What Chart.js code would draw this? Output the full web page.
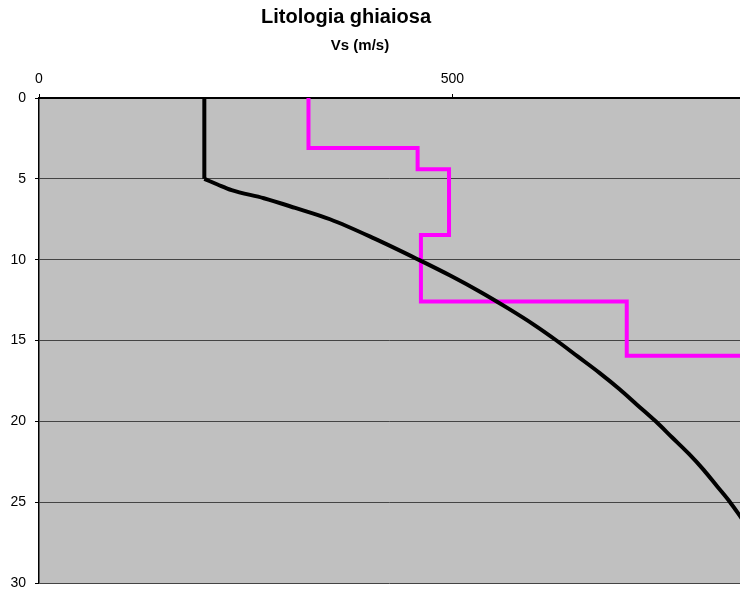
<!DOCTYPE html>
<html>
<head>
<meta charset="utf-8">
<title>Litologia ghiaiosa</title>
<script src="https://cdn.jsdelivr.net/npm/chart.js@4/dist/chart.umd.min.js"></script>
<style>
  html, body { margin: 0; padding: 0; background: #fff; overflow: hidden; }
  #wrap { width: 740px; height: 589px; position: relative; }
</style>
</head>
<body>
<div id="wrap"><canvas id="grafico"></canvas></div>
<script>
/* ---------- Dati ---------- */
const titolo = 'Litologia ghiaiosa';
const titoloAsse = 'Vs (m/s)';

// curva nera: profondità (m) e Vs (m/s)
const profCurva = [0, 5, 5.35, 5.7, 6.2, 6.8, 7.5, 8.7, 10, 11, 12, 13, 14, 15, 16, 17, 18, 19, 20, 21, 22, 23, 24, 25, 26, 28, 30];
const vsCurva   = [200, 200, 216, 233, 272, 310, 352, 406, 459, 498, 534, 567, 598, 626, 652, 678, 702, 724, 746, 766, 786, 804, 820, 836, 850, 878, 901];

// profilo a gradini magenta
const profGradini = [0, 3.1, 3.1, 4.4, 4.4, 8.48, 8.48, 12.58, 12.58, 15.95, 15.95];
const vsGradini   = [326, 326, 458, 458, 496, 496, 462, 462, 711, 711, 900];

const tickX = [0, 500];
const xMax = 848;
const yMax = 30;

/* ---------- Plugin ---------- */
const sfondoPlot = {
  id: 'sfondoPlot',
  beforeDraw(chart) {
    const { ctx, chartArea: a } = chart;
    ctx.save();
    ctx.fillStyle = '#c0c0c0';
    ctx.fillRect(a.left, a.top, a.right - a.left, a.bottom - a.top);
    ctx.restore();
  }
};
const titoli = {
  id: 'titoli',
  afterDraw(chart) {
    const ctx = chart.ctx;
    ctx.save();
    ctx.fillStyle = '#000';
    ctx.textAlign = 'center';
    ctx.textBaseline = 'alphabetic';
    ctx.font = 'bold 20px "Liberation Sans", Arial, sans-serif';
    ctx.fillText(titolo, 346, 23);
    ctx.font = 'bold 15px "Liberation Sans", Arial, sans-serif';
    ctx.fillText(titoloAsse, 360, 50);
    ctx.restore();
  }
};

const punti = (xs, ys) => xs.map((v, i) => ({ x: v, y: ys[i] }));

/* ---------- Grafico ---------- */
// tratto verticale (0-5 m) separato dalla curva, così lo spigolo resta vivo
const ctx = document.getElementById('grafico').getContext('2d');
new Chart(ctx, {
  type: 'scatter',
  data: {
    datasets: [
      {
        label: 'Vs curva (tratto costante)',
        data: punti(vsCurva.slice(0, 2), profCurva.slice(0, 2)),
        showLine: true,
        borderColor: '#000000',
        borderWidth: 4,
        pointRadius: 0,
        tension: 0
      },
      {
        label: 'Vs curva',
        data: punti(vsCurva.slice(1), profCurva.slice(1)),
        showLine: true,
        borderColor: '#000000',
        borderWidth: 4,
        pointRadius: 0,
        cubicInterpolationMode: 'monotone',
        borderJoinStyle: 'round'
      },
      {
        label: 'Vs misurata',
        data: punti(vsGradini, profGradini),
        showLine: true,
        borderColor: '#ff00ff',
        borderWidth: 4,
        pointRadius: 0,
        tension: 0,
        borderJoinStyle: 'miter'
      }
    ]
  },
  options: {
    responsive: true,
    maintainAspectRatio: false,
    animation: false,
    layout: { padding: { top: 0, left: 0, right: 0, bottom: 6 } },
    plugins: { legend: { display: false }, tooltip: { enabled: false }, title: { display: false } },
    scales: {
      x: {
        type: 'linear',
        position: 'top',
        min: 0,
        max: xMax,
        afterBuildTicks: s => { s.ticks = tickX.map(v => ({ value: v })); },
        afterFit: s => { s.height = 98; s.paddingLeft = 0; s.paddingRight = 0; },
        grid: { drawOnChartArea: false, tickLength: 4, tickColor: '#000' },
        border: { color: '#000', width: 2 },
        ticks: {
          color: '#000',
          padding: 6,
          maxRotation: 0,
          font: { family: '"Liberation Sans", Arial, sans-serif', size: 14 }
        }
      },
      y: {
        type: 'linear',
        reverse: true,
        min: 0,
        max: yMax,
        afterFit: s => { s.width = 39; s.paddingTop = 0; s.paddingBottom = 0; },
        grid: { color: '#444', lineWidth: 1, tickLength: 4, tickColor: '#000' },
        border: { color: '#000', width: 1.5 },
        ticks: {
          stepSize: 5,
          color: '#000',
          padding: 9,
          font: { family: '"Liberation Sans", Arial, sans-serif', size: 14 }
        }
      }
    }
  },
  plugins: [sfondoPlot, titoli]
});
</script>
</body>
</html>
